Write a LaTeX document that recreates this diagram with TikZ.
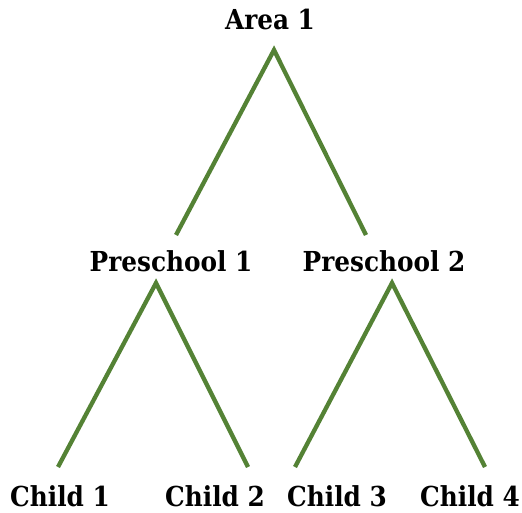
\documentclass[tikz,border=0pt]{standalone}
\usepackage{fontspec}
\setmainfont{DejaVu Serif Condensed}
\definecolor{branch}{RGB}{84,130,53}
\begin{document}
\begin{tikzpicture}[x=1pt,y=-1pt,
  lbl/.style={font=\fontsize{27.5}{30}\selectfont\bfseries, inner sep=0pt, anchor=base},
  edge/.style={draw=branch, line width=4.3pt}]
\useasboundingbox (0,0) rectangle (522,513);
% labels
\node[lbl] (area) at (270,30) {Area 1};
\node[lbl] (ps1) at (171,271) {Preschool 1};
\node[lbl] (ps2) at (384,271) {Preschool 2};
\node[lbl] (c1) at (60,506) {Child 1};
\node[lbl] (c2) at (215,506) {Child 2};
\node[lbl] (c3) at (337,506) {Child 3};
\node[lbl] (c4) at (470,506) {Child 4};
% branch end points
\coordinate (a0) at (274,50);
\coordinate (a1) at (176,235);
\coordinate (a2) at (366,235);
\coordinate (p10) at (156,283);
\coordinate (p11) at (58,467);
\coordinate (p12) at (248,467);
\coordinate (p20) at (392,283);
\coordinate (p21) at (295,467);
\coordinate (p22) at (485,467);
\draw[edge] (a1) -- (a0) -- (a2);
\draw[edge] (p11) -- (p10) -- (p12);
\draw[edge] (p21) -- (p20) -- (p22);
\end{tikzpicture}
\end{document}
